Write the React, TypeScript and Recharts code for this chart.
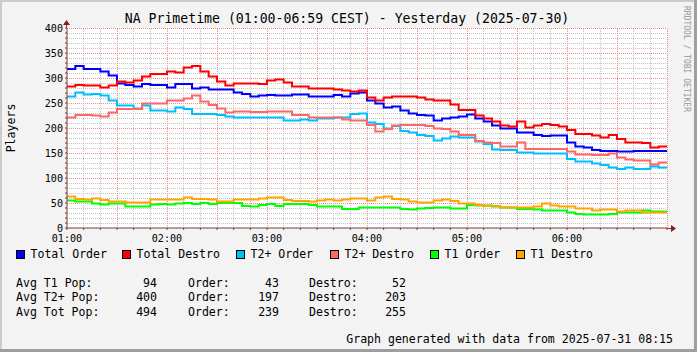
import React from "react";
import { LineChart, Line, XAxis, YAxis, CartesianGrid, ReferenceLine } from "recharts";

// 5-minute samples from 01:00 to 06:55 (72 values each)
const totalOrder = [318,324,318,318,313,305,289,286,283,288,286,286,281,288,288,279,281,277,277,277,271,268,263,265,266,265,265,267,267,263,263,263,266,263,269,271,255,249,241,243,235,229,226,225,215,219,221,223,227,219,213,205,199,199,191,191,186,184,185,185,171,163,161,156,154,154,153,153,154,154,154,154];
const totalDestro = [283,286,285,285,281,285,293,291,295,303,308,308,313,311,321,324,313,303,293,285,289,289,289,288,295,297,291,283,283,279,279,279,277,275,273,275,261,255,261,263,263,263,261,257,255,255,247,236,236,225,219,213,205,203,213,201,205,208,206,203,196,188,188,185,181,186,178,171,171,170,161,163];
const t2Order = [263,271,267,268,265,255,245,245,239,245,235,235,233,241,238,228,228,228,226,223,221,221,221,221,221,221,215,215,217,215,219,219,221,221,228,229,211,208,199,204,194,191,186,184,175,179,183,181,181,173,168,157,156,156,151,151,149,149,149,149,138,133,133,129,126,121,118,121,118,118,123,121];
const t2Destro = [221,226,226,225,223,231,238,238,238,249,249,249,255,255,259,265,253,246,239,231,233,233,232,232,233,233,233,226,226,221,221,221,221,217,215,215,206,193,198,205,206,206,206,204,199,198,193,186,186,174,171,170,163,163,171,158,158,158,158,158,153,147,147,146,146,149,141,137,135,135,127,131];
const t1Order = [55,53,53,49,47,49,49,43,43,43,47,48,47,49,50,48,50,48,50,50,50,44,43,46,48,44,48,48,48,46,43,43,43,38,38,41,41,41,41,41,38,37,39,40,41,41,39,39,46,45,45,43,41,41,38,38,37,35,35,35,31,28,27,27,27,28,31,31,31,35,33,33];
const t1Destro = [63,58,57,59,56,53,53,51,51,51,57,57,57,57,61,58,58,57,53,53,57,57,57,59,61,61,56,54,54,53,55,57,55,57,59,59,55,61,63,58,57,53,51,51,55,57,54,49,49,46,44,44,41,41,41,41,43,49,45,43,43,39,39,35,37,37,33,35,35,31,31,31];

const hourLabels = ["01:00", "02:00", "03:00", "04:00", "05:00", "06:00"];
const seriesNames = ["Total Order", "Total Destro", "T2+ Order", "T2+ Destro", "T1 Order", "T1 Destro"];
const seriesKeys = ["totalOrder", "totalDestro", "t2Order", "t2Destro", "t1Order", "t1Destro"];
const seriesColors = ["#0000ff", "#ff0000", "#00bfff", "#ff6666", "#00ff00", "#ffa500"];
const seriesValues = [totalOrder, totalDestro, t2Order, t2Destro, t1Order, t1Destro];

const statLabels = ["Avg T1 Pop:", "Avg T2+ Pop:", "Avg Tot Pop:"];
const statPop = [94, 400, 494];
const statOrder = [43, 197, 239];
const statDestro = [52, 203, 255];

const title = "NA Primetime (01:00-06:59 CEST) - Yesterday (2025-07-30)";
const footer = "Graph generated with data from 2025-07-31 08:15";
const yLabel = "Players";

const STEP_MIN = 5;
const data = totalOrder.map((_, i) => {
  const row: any = { t: i * STEP_MIN };
  seriesKeys.forEach((k, j) => (row[k] = seriesValues[j][i]));
  return row;
});
{
  const last: any = { t: totalOrder.length * STEP_MIN };
  seriesKeys.forEach((k, j) => (last[k] = seriesValues[j][seriesValues[j].length - 1]));
  data.push(last);
}

const xTicks = Array.from({ length: 37 }, (_, i) => i * 10);
const yTicks = Array.from({ length: 41 }, (_, i) => i * 10);

const FONT = "'DejaVu Sans Mono', monospace";
const AXIS_COLOR = "#7e3b3b";
const MINOR = "#c4c4c4";
const MAJOR = "#ec8c8c";

const XTick = (props: any) => {
  const { x, y, payload } = props;
  const v = payload.value;
  if (v % 60 !== 0 || v >= 360) return <g />;
  return (
    <text x={x} y={y} dy={9} textAnchor="middle" fontFamily={FONT} fontSize={10.1} fill="#000">
      {hourLabels[v / 60]}
    </text>
  );
};

const YTick = (props: any) => {
  const { x, y, payload } = props;
  const v = payload.value;
  if (v % 50 !== 0) return <g />;
  return (
    <text x={x} y={y} dy={3.6} textAnchor="end" fontFamily={FONT} fontSize={10.1} fill="#000">
      {v}
    </text>
  );
};

const legendBoxX = [16, 122, 236, 330, 430, 516];

export default function App() {
  return (
    <div
      style={{
        position: "absolute",
        left: 0,
        top: 0,
        width: 697,
        height: 352,
        background: "#f3f3f3",
        boxSizing: "border-box",
        overflow: "hidden",
      }}
    >
      <div style={{ position: "absolute", left: 0, top: 0 }}>
        <LineChart
          width={697}
          height={352}
          data={data}
          margin={{ top: 28, right: 30, bottom: 104, left: 0 }}
        >
          <CartesianGrid fill="#ffffff" horizontal={false} vertical={false} />
          {yTicks.filter((v) => v > 0).map((v) => (
            <ReferenceLine
              key={"y" + v}
              y={v}
              stroke={v % 50 === 0 ? MAJOR : MINOR}
              strokeDasharray="1 1"
              strokeWidth={1}
              shapeRendering="crispEdges"
            />
          ))}
          {xTicks.filter((v) => v > 0).map((v) => (
            <ReferenceLine
              key={"x" + v}
              x={v}
              stroke={v % 30 === 0 ? MAJOR : MINOR}
              strokeDasharray="1 1"
              strokeWidth={1}
              shapeRendering="crispEdges"
            />
          ))}
          <XAxis
            dataKey="t"
            type="number"
            domain={[0, 360]}
            ticks={xTicks}
            interval={0}
            height={20}
            tickSize={2}
            tickMargin={3}
            tick={<XTick />}
            axisLine={{ stroke: AXIS_COLOR, strokeWidth: 1 }}
            tickLine={{ stroke: AXIS_COLOR }}
          />
          <YAxis
            type="number"
            domain={[0, 400]}
            ticks={yTicks}
            interval={0}
            width={67}
            tickSize={2}
            tickMargin={2}
            tick={<YTick />}
            axisLine={{ stroke: AXIS_COLOR, strokeWidth: 1 }}
            tickLine={{ stroke: AXIS_COLOR }}
          />
          {seriesKeys.map((k, i) => (
            <Line
              key={k}
              dataKey={k}
              type="stepAfter"
              stroke={seriesColors[i]}
              strokeWidth={2}
              dot={false}
              activeDot={false}
              isAnimationActive={false}
            />
          ))}
        </LineChart>
      </div>
      <svg
        width={697}
        height={352}
        style={{ position: "absolute", left: 0, top: 0, pointerEvents: "none" }}
      >
        {/* frame */}
        <rect x={0} y={0} width={697} height={2} fill="#cbcbcb" />
        <rect x={0} y={0} width={2} height={352} fill="#cbcbcb" />
        <rect x={0} y={349} width={697} height={3} fill="#9e9e9e" />
        <rect x={694} y={0} width={3} height={352} fill="#9e9e9e" />
        {/* axis extensions and arrows */}
        <line x1={667} y1={228.5} x2={672} y2={228.5} stroke={AXIS_COLOR} />
        <polygon points="671,225 671,232 676,228.5" fill="#8b1a1a" />
        <line x1={66.5} y1={28} x2={66.5} y2={24} stroke={AXIS_COLOR} />
        <polygon points="63,25 70,25 66.5,20" fill="#8b1a1a" />
        {/* title */}
        <text x={347} y={23} textAnchor="middle" fontFamily={FONT} fontSize={13.2} fill="#000">
          {title}
        </text>
        {/* y unit label */}
        <text
          x={0}
          y={0}
          transform="translate(14.5,128) rotate(-90)"
          textAnchor="middle"
          fontFamily={FONT}
          fontSize={11.56}
          fill="#000"
        >
          {yLabel}
        </text>
        {/* watermark */}
        <text
          x={0}
          y={0}
          transform="translate(684,6) rotate(90)"
          fontFamily={FONT}
          fontSize={8}
          fill="#999"
        >
          RRDTOOL / TOBI OETIKER
        </text>
        {/* legend */}
        {seriesNames.map((n, i) => (
          <g key={n}>
            <rect
              x={legendBoxX[i] + 0.5}
              y={250.5}
              width={8}
              height={8}
              fill={seriesColors[i]}
              stroke="#000"
              strokeWidth={1}
            />
            <text x={legendBoxX[i] + 14.5} y={258.3} fontFamily={FONT} fontSize={11.56} fill="#000">
              {n}
            </text>
          </g>
        ))}
        {/* stats */}
        {statLabels.map((l, i) => {
          const y = [286.5, 301, 315.5][i];
          return (
            <g key={l} fontFamily={FONT} fontSize={11.56} fill="#000">
              <text x={16} y={y}>{l}</text>
              <text x={157} y={y} textAnchor="end">{statPop[i]}</text>
              <text x={188} y={y}>Order:</text>
              <text x={279} y={y} textAnchor="end">{statOrder[i]}</text>
              <text x={309} y={y}>Destro:</text>
              <text x={406} y={y} textAnchor="end">{statDestro[i]}</text>
            </g>
          );
        })}
        <text x={673} y={342.5} textAnchor="end" fontFamily={FONT} fontSize={11.56} fill="#000">
          {footer}
        </text>
      </svg>
    </div>
  );
}
